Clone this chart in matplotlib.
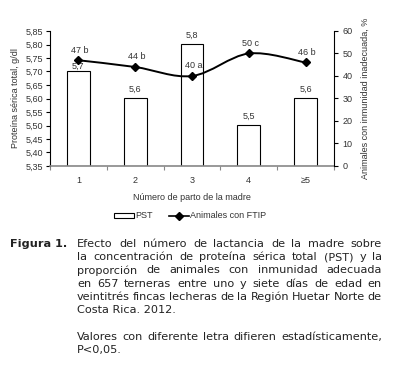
import matplotlib
matplotlib.use("Agg")
import matplotlib.pyplot as plt
import numpy as np
from matplotlib.path import Path
from matplotlib.patches import PathPatch, Patch
from matplotlib.lines import Line2D

# Data
categories = ["1", "2", "3", "4", "\u22655"]
pst = [5.7, 5.6, 5.8, 5.5, 5.6]
pst_labels = ["5,7", "5,6", "5,8", "5,5", "5,6"]
ftip = [47, 44, 40, 50, 46]
ftip_letters = ["b", "b", "a", "c", "b"]
left_ticks = [5.35, 5.40, 5.45, 5.50, 5.55, 5.60, 5.65, 5.70, 5.75, 5.80, 5.85]
right_ticks = [0, 10, 20, 30, 40, 50, 60]

caption_title = "Figura 1."
caption_lines1 = ["Efecto del número de lactancia de la madre sobre",
                  "la concentración de proteína sérica total (PST) y la",
                  "proporción de animales con inmunidad adecuada",
                  "en 657 terneras entre uno y siete días de edad en",
                  "veintitrés fincas lecheras de la Región Huetar Norte de",
                  "Costa Rica. 2012."]
caption_lines2 = ["Valores con diferente letra difieren estadísticamente,",
                  "P<0,05."]

W, H = 398, 378
fig = plt.figure(figsize=(W / 100, H / 100), dpi=100)
plt.rcParams["font.family"] = ["Liberation Sans", "DejaVu Sans"]
fs = 6.5
tc = "#333333"

ax = fig.add_axes([50 / W, 1 - 166 / H, 284 / W, 135 / H])
x = np.arange(1, len(categories) + 1)
base = left_ticks[0]
ax.bar(x, np.array(pst) - base, bottom=base, width=0.4, facecolor="white",
       edgecolor="black", linewidth=0.8, zorder=2)
for i, (xi, v, lab) in enumerate(zip(x, pst, pst_labels)):
    off = 0.5 if i == 0 else 3.5  # first label sits right on its bar
    ax.annotate(lab, (xi, v), xytext=(0, off), textcoords="offset points",
                ha="center", va="bottom", fontsize=fs, color=tc)

ax.set_xlim(0.5, len(categories) + 0.5)
ax.set_ylim(left_ticks[0], left_ticks[-1])
ax.set_yticks(left_ticks)
ax.set_yticklabels([f"{t:.2f}".replace(".", ",") for t in left_ticks])
ax.set_xticks(x)
ax.set_xticklabels(categories)
ax.set_xticks(np.arange(0.5, len(categories) + 1, 1.0), minor=True)
ax.tick_params(axis="x", which="major", length=0, pad=7, labelsize=fs, labelcolor=tc)
ax.tick_params(axis="x", which="minor", length=3, color="#888888", width=0.8)
ax.tick_params(axis="y", length=3, width=0.8, pad=2, labelsize=fs, labelcolor=tc)
ax.spines["top"].set_visible(False)
ax.spines["right"].set_visible(False)
ax.spines["bottom"].set_color("#888888")
ax.spines["bottom"].set_linewidth(1.2)
ax.spines["left"].set_linewidth(0.8)
ax.set_ylabel("Proteína sérica total, g/dl", fontsize=fs, color=tc, labelpad=4)
ax.set_xlabel("Número de parto de la madre", fontsize=fs, color=tc, labelpad=6)

ax2 = ax.twinx()
ax2.set_ylim(right_ticks[0], right_ticks[-1])
ax2.set_yticks(right_ticks)
ax2.tick_params(axis="y", length=3, width=0.8, pad=3, labelsize=fs, labelcolor=tc)
for s in ["top", "left", "bottom"]:
    ax2.spines[s].set_visible(False)
ax2.spines["right"].set_linewidth(0.8)
ax2.set_ylabel("Animales con inmunidad inadecuada, %", fontsize=fs, color=tc,
               labelpad=6)

# smoothed line (Catmull-Rom as cubic Bezier)
pts = np.column_stack([x, ftip]).astype(float)
ext = np.vstack([pts[0], pts, pts[-1]])
verts = [tuple(pts[0])]
codes = [Path.MOVETO]
for i in range(len(pts) - 1):
    p0, p1, p2, p3 = ext[i], ext[i + 1], ext[i + 2], ext[i + 3]
    c1 = p1 + (p2 - p0) / 6
    c2 = p2 - (p3 - p1) / 6
    verts += [tuple(c1), tuple(c2), tuple(p2)]
    codes += [Path.CURVE4] * 3
ax2.add_patch(PathPatch(Path(verts, codes), facecolor="none", edgecolor="black",
                        linewidth=1.4, zorder=3))
ax2.plot(x, ftip, linestyle="none", marker="D", markersize=4.5, color="black", zorder=4)
for xi, v, l in zip(x, ftip, ftip_letters):
    ax2.annotate(f"{v} {l}", (xi, v), xytext=(1, 4), textcoords="offset points",
                 ha="center", va="bottom", fontsize=fs, color=tc)

handles = [Patch(facecolor="white", edgecolor="black", linewidth=0.8, label="PST"),
           Line2D([], [], color="black", marker="D", markersize=4, linewidth=1.2,
                  label="Animales con FTIP")]
fig.legend(handles=handles, loc="center", bbox_to_anchor=(190 / W, 1 - 216 / H),
           ncol=2, frameon=False, fontsize=fs, handlelength=2.2, handleheight=0.5,
           handletextpad=0.1, columnspacing=1.8, labelcolor=tc)

# caption (justified)
cfs = 8.1
cfam = "DejaVu Sans"
x_left, x_right = 77, 382
fig.text(10 / W, 1 - 244 / H, caption_title, fontsize=cfs, family=cfam,
         fontweight="bold", va="center", color="#222222")
renderer = fig.canvas.get_renderer()


def put_line(line, y, justify):
    if not justify:
        fig.text(x_left / W, 1 - y / H, line, fontsize=cfs, family=cfam,
                 va="center", color="#222222")
        return
    words = line.split(" ")
    objs = [fig.text(0, 1 - y / H, w, fontsize=cfs, family=cfam, va="center",
                     color="#222222") for w in words]
    widths = [o.get_window_extent(renderer).width for o in objs]
    gap = (x_right - x_left - sum(widths)) / (len(words) - 1)
    pos = x_left
    for o, wdt in zip(objs, widths):
        o.set_x(pos / W)
        pos += wdt + gap


y0, dy = 244, 13.2
for i, line in enumerate(caption_lines1):
    put_line(line, y0 + i * dy, i < len(caption_lines1) - 1)
y1 = 337
for i, line in enumerate(caption_lines2):
    put_line(line, y1 + i * dy, i < len(caption_lines2) - 1)

fig.savefig("out.png", dpi=100)
